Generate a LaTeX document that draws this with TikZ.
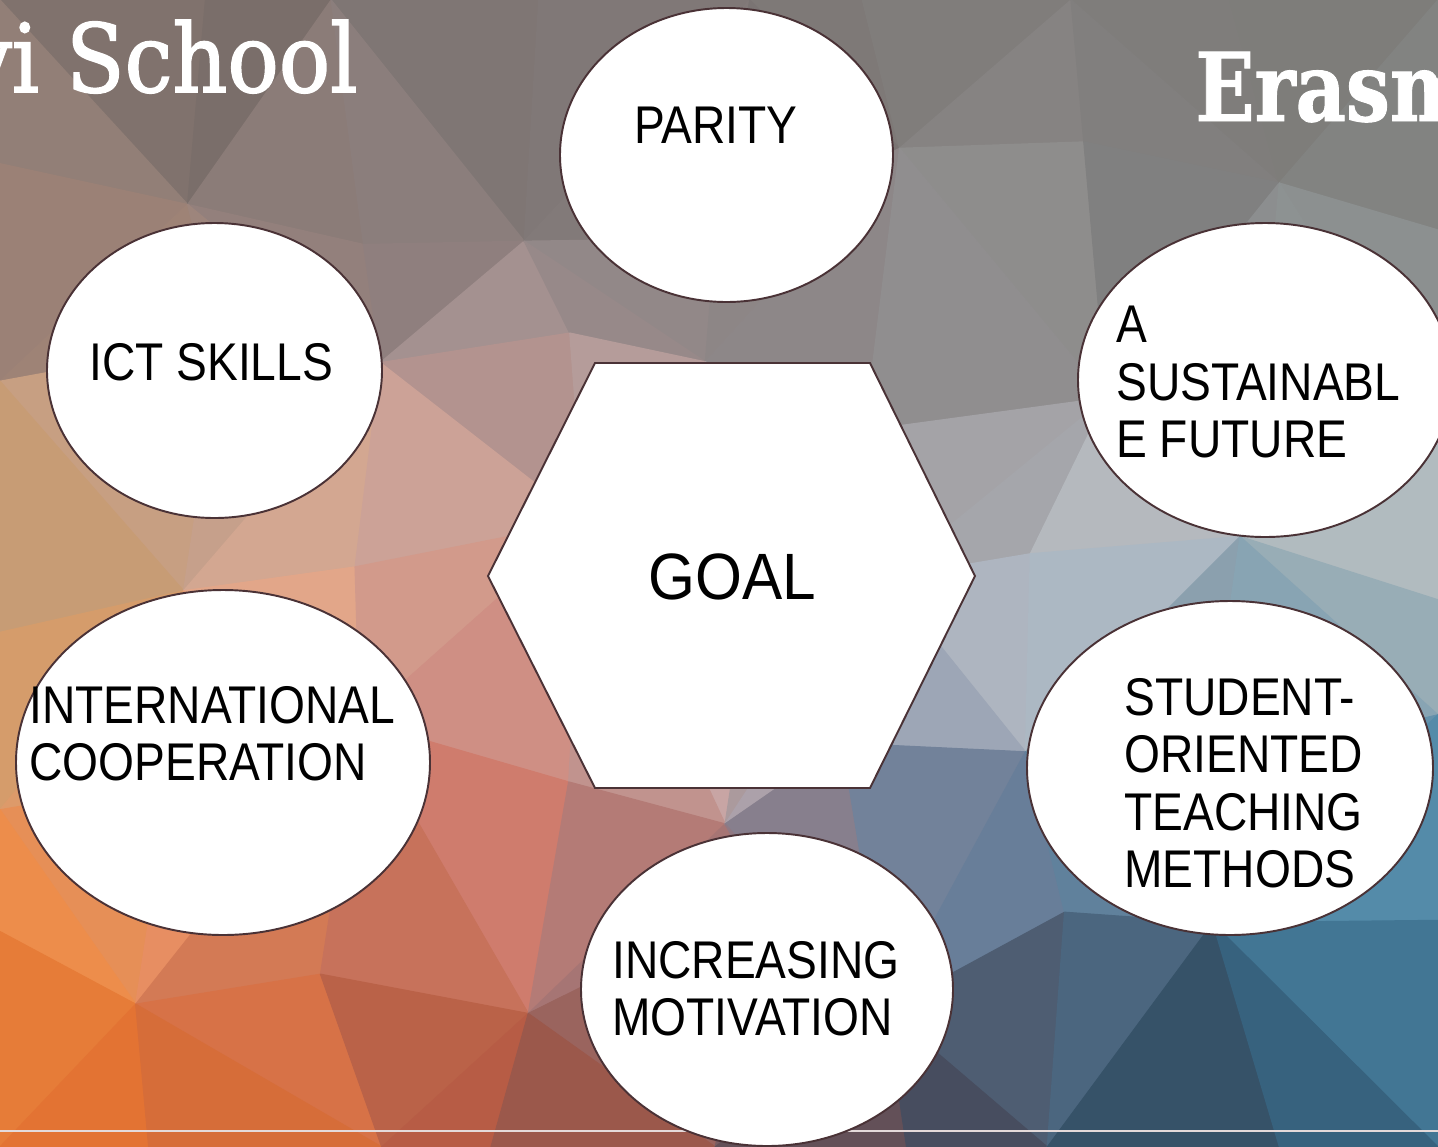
\documentclass[tikz,border=0pt]{standalone}
\usepackage{fontspec}
\setmainfont{Liberation Sans}
\newfontfamily\bodyfont[FakeStretch=0.87]{Liberation Sans}
\newfontfamily\goalfont[FakeStretch=0.92]{Liberation Sans}
\newfontfamily\slabfont[FakeStretch=0.9,FakeBold=1.6]{DejaVu Serif}
\newfontfamily\slabbold[FakeStretch=0.82,FakeBold=1]{DejaVu Serif Bold}
\usetikzlibrary{shapes.geometric}

\definecolor{edgecol}{HTML}{4A3236}
\definecolor{rulecol}{HTML}{E4DADA}

% control colours of the background (4 columns x 5 rows)
\def\RR{{125,120,118,124,165,150,140,135,222,208,182,182,244,205,110,88,240,172,55,38}}
\def\GG{{113,112,114,123,135,135,138,140,172,162,182,196,150,118,128,150,116,82,58,88}}
\def\BB{{108,110,112,119,122,135,138,140,118,155,188,200,78,102,155,180,36,58,72,118}}

\newcommand\bgtint[3]{%
  \pgfmathsetmacro\fx{#1/479.333}%
  \pgfmathtruncatemacro\ci{min(floor(\fx),2)}%
  \pgfmathsetmacro\tx{\fx-\ci}%
  \pgfmathsetmacro\fy{#2/286.75}%
  \pgfmathtruncatemacro\cj{min(floor(\fy),3)}%
  \pgfmathsetmacro\tyy{\fy-\cj}%
  \pgfmathtruncatemacro\ka{\cj*4+\ci}%
  \pgfmathtruncatemacro\kb{\ka+1}%
  \pgfmathtruncatemacro\kc{\ka+4}%
  \pgfmathtruncatemacro\kd{\ka+5}%
  \pgfmathsetmacro\jit{1+0.06*rand}%
  \pgfmathtruncatemacro\colR{max(0,min(255,\jit*((1-\tx)*(1-\tyy)*\RR[\ka]+\tx*(1-\tyy)*\RR[\kb]+(1-\tx)*\tyy*\RR[\kc]+\tx*\tyy*\RR[\kd])))}%
  \pgfmathtruncatemacro\colG{max(0,min(255,\jit*((1-\tx)*(1-\tyy)*\GG[\ka]+\tx*(1-\tyy)*\GG[\kb]+(1-\tx)*\tyy*\GG[\kc]+\tx*\tyy*\GG[\kd])))}%
  \pgfmathtruncatemacro\colB{max(0,min(255,\jit*((1-\tx)*(1-\tyy)*\BB[\ka]+\tx*(1-\tyy)*\BB[\kb]+(1-\tx)*\tyy*\BB[\kc]+\tx*\tyy*\BB[\kd])))}%
  \definecolor{#3}{RGB}{\colR,\colG,\colB}%
}

\tikzset{
  facet/.style={line width=0.7pt, line join=round},
  bubble/.style={ellipse, draw=edgecol, fill=white, line width=1.1pt, inner sep=0pt},
  hexbox/.style={draw=edgecol, fill=white, line width=1.1pt, line join=miter},
  lbl/.style={inner sep=0pt, align=left, text=black,
    font=\bodyfont\fontsize{30.2pt}{32.7pt}\selectfont},
  goallbl/.style={inner sep=0pt, text=black,
    font=\goalfont\fontsize{37.3pt}{40pt}\selectfont},
  titlelbl/.style={inner sep=0pt, text=white},
  rule/.style={draw=rulecol, line width=1.1pt},
}

\begin{document}
\begin{tikzpicture}[x=0.02cm, y=-0.02cm]
\useasboundingbox (0,0) rectangle (1438,1147);
\clip (0,0) rectangle (1438,1147);

% ---------- low-poly background ----------
\pgfmathsetseed{7}
\foreach \i in {0,...,8}{
  \foreach \j in {0,...,6}{
    \pgfmathsetmacro\jx{(\i>0 && \i<8) ? 60*rand : 0}
    \pgfmathsetmacro\jy{(\j>0 && \j<6) ? 60*rand : 0}
    \coordinate (v\i-\j) at (\i*179.75+\jx, \j*191.1667+\jy);
  }
}
\foreach \i [evaluate=\i as \ii using int(\i+1)] in {0,...,7}{
  \foreach \j [evaluate=\j as \jj using int(\j+1)] in {0,...,5}{
    \pgfmathtruncatemacro\cellpar{mod(\i+\j,2)}
    \ifnum\cellpar=0
      \pgfmathsetmacro\ax{(\i+0.667)*179.75}\pgfmathsetmacro\ay{(\j+0.333)*191.1667}
      \bgtint{\ax}{\ay}{tA}
      \fill[facet, fill=tA, draw=tA] (v\i-\j) -- (v\ii-\j) -- (v\ii-\jj) -- cycle;
      \pgfmathsetmacro\ax{(\i+0.333)*179.75}\pgfmathsetmacro\ay{(\j+0.667)*191.1667}
      \bgtint{\ax}{\ay}{tB}
      \fill[facet, fill=tB, draw=tB] (v\i-\j) -- (v\ii-\jj) -- (v\i-\jj) -- cycle;
    \else
      \pgfmathsetmacro\ax{(\i+0.333)*179.75}\pgfmathsetmacro\ay{(\j+0.333)*191.1667}
      \bgtint{\ax}{\ay}{tA}
      \fill[facet, fill=tA, draw=tA] (v\i-\j) -- (v\ii-\j) -- (v\i-\jj) -- cycle;
      \pgfmathsetmacro\ax{(\i+0.667)*179.75}\pgfmathsetmacro\ay{(\j+0.667)*191.1667}
      \bgtint{\ax}{\ay}{tB}
      \fill[facet, fill=tB, draw=tB] (v\ii-\j) -- (v\ii-\jj) -- (v\i-\jj) -- cycle;
    \fi
  }
}

% ---------- footer rule ----------
\coordinate (rule-l) at (0,1131);
\coordinate (rule-r) at (1438,1131);
\draw[rule] (rule-l) -- (rule-r);

% ---------- titles ----------
\node[titlelbl, anchor=base east, font=\slabfont\fontsize{54pt}{60pt}\selectfont] (school) at (358,92) {vi School};
\node[titlelbl, anchor=base west, font=\slabbold\fontsize{54pt}{60pt}\selectfont] (erasm) at (1195,121) {Erasm};

% ---------- central hexagon ----------
\coordinate (h1) at (595,363);
\coordinate (h2) at (870,363);
\coordinate (h3) at (975,576);
\coordinate (h4) at (870,788);
\coordinate (h5) at (595,788);
\coordinate (h6) at (488,576);
\draw[hexbox] (h1) -- (h2) -- (h3) -- (h4) -- (h5) -- (h6) -- cycle;
\node[goallbl, anchor=base] (goal) at (732,599) {GOAL};

% ---------- surrounding ellipses ----------
\node[bubble, minimum width={333*0.02cm}, minimum height={294*0.02cm}] (parity) at (726.5,155) {};
\node[bubble, minimum width={335*0.02cm}, minimum height={295*0.02cm}] (ict) at (214.5,370.5) {};
\node[bubble, minimum width={374*0.02cm}, minimum height={314*0.02cm}] (sust) at (1265,380) {};
\node[bubble, minimum width={414*0.02cm}, minimum height={345*0.02cm}] (intl) at (223,762.5) {};
\node[bubble, minimum width={406*0.02cm}, minimum height={334*0.02cm}] (stud) at (1230,768) {};
\node[bubble, minimum width={372*0.02cm}, minimum height={313*0.02cm}] (motiv) at (767,989.5) {};

% ---------- labels ----------
\node[lbl, anchor=north west] (t-parity) at (634,107) {PARITY};
\node[lbl, anchor=north west] (t-ict) at (89,343) {ICT SKILLS};
\node[lbl, anchor=north west] (t-sust) at (1116,306) {A\\SUSTAINABL\\E FUTURE};
\node[lbl, anchor=north west] (t-intl) at (29,686) {INTERNATIONAL\\COOPERATION};
\node[lbl, anchor=north west] (t-stud) at (1124,678) {STUDENT-\\ORIENTED\\TEACHING\\METHODS};
\node[lbl, anchor=north west] (t-motiv) at (612,941) {INCREASING\\MOTIVATION};
\end{tikzpicture}
\end{document}
